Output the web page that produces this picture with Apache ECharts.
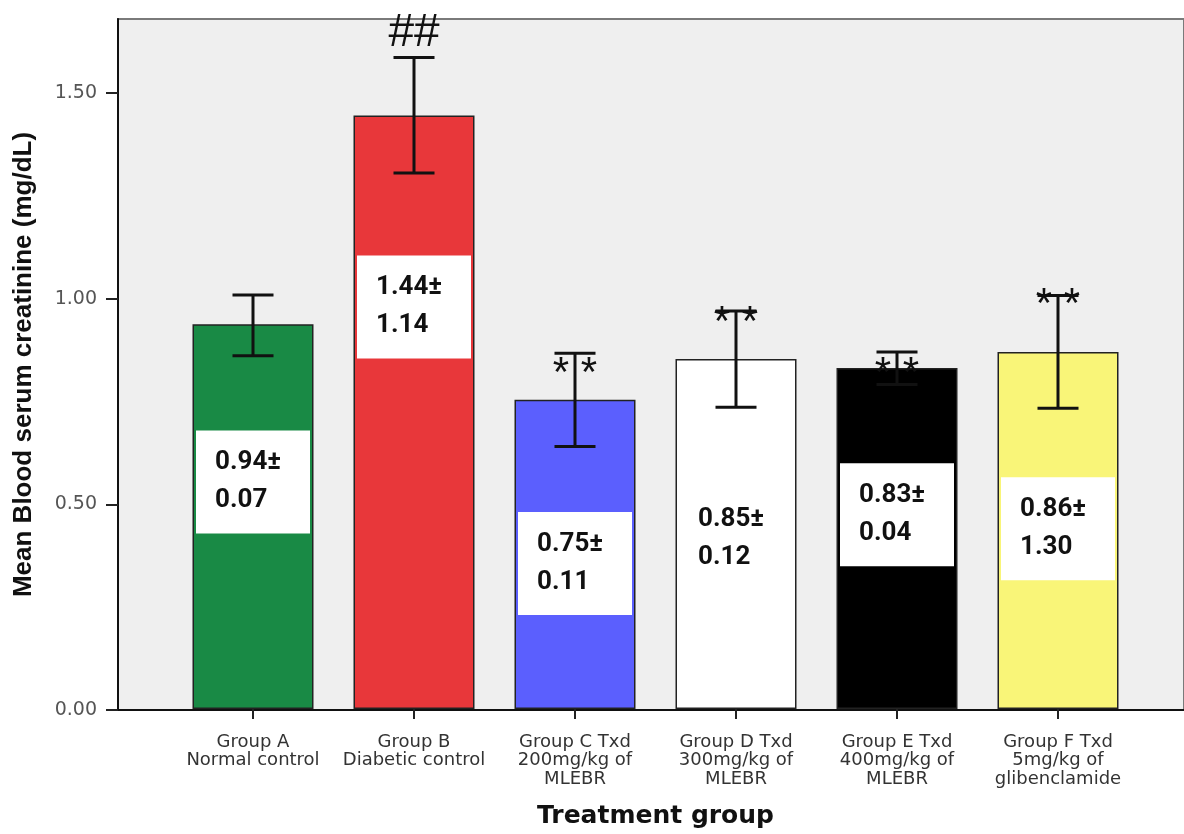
<!DOCTYPE html>
<html>
<head>
<meta charset="utf-8">
<script src="https://cdn.jsdelivr.net/npm/echarts@6/dist/echarts.min.js"></script>
<style>
  html, body { margin: 0; padding: 0; background: #fff; }
  #creatinineChart { width: 1184px; height: 834px; }
</style>
</head>
<body>
<div id="creatinineChart"></div>
<script>
// groups on the x axis
var groupNames = [
  'Group A\nNormal control',
  'Group B\nDiabetic control',
  'Group C Txd\n200mg/kg of\nMLEBR',
  'Group D Txd\n300mg/kg of\nMLEBR',
  'Group E Txd\n400mg/kg of\nMLEBR',
  'Group F Txd\n5mg/kg of\nglibenclamide'
]
// mean serum creatinine (mg/dL)
var meanValues = [0.937, 1.445, 0.753, 0.852, 0.830, 0.869]
// error bar ends
var errLow = [0.860, 1.305, 0.639, 0.735, 0.790, 0.732]
var errHigh = [1.008, 1.586, 0.866, 0.969, 0.869, 1.007]
// text in the white boxes
var meanText = ['0.94', '1.44', '0.75', '0.85', '0.83', '0.86']
var sdText = ['0.07', '1.14', '0.11', '0.12', '0.04', '1.30']
// where the white boxes sit (value at box centre)
var boxCenter = [0.553, 0.979, 0.354, 0.416, 0.473, 0.439]
// significance marks and their heights
var markText = ['', '##', '* *', '* *', '* *', '* *']
var markValue = [0, 1.649, 0.838, 0.962, 0.839, 1.007]
// y axis ticks
var yTicks = [0, 0.5, 1, 1.5]

var barColors = ['#198a45', '#e8373a', '#5b5ffe', '#ffffff', '#000000', '#f9f578']

var chart = echarts.init(document.getElementById('creatinineChart'))

function renderErr(params, api) {
  var x = api.value(0)
  var lo = api.coord([x, api.value(1)])
  var hi = api.coord([x, api.value(2)])
  var half = 20.5
  var st = { stroke: '#111', lineWidth: 3 }
  return {
    type: 'group',
    children: [
      { type: 'line', shape: { x1: lo[0], y1: lo[1], x2: hi[0], y2: hi[1] }, style: st },
      { type: 'line', shape: { x1: lo[0] - half, y1: lo[1], x2: lo[0] + half, y2: lo[1] }, style: st },
      { type: 'line', shape: { x1: hi[0] - half, y1: hi[1], x2: hi[0] + half, y2: hi[1] }, style: st }
    ]
  }
}

function renderBox(params, api) {
  var i = params.dataIndex
  var c = api.coord([api.value(0), api.value(1)])
  return {
    type: 'group',
    children: [
      {
        type: 'rect',
        shape: { x: c[0] - 57, y: c[1] - 51.5, width: 114, height: 103 },
        style: { fill: '#ffffff' }
      },
      {
        type: 'text',
        style: {
          x: c[0] - 38,
          y: c[1],
          text: meanText[i] + '±\n' + sdText[i],
          font: 'bold 26px Roboto',
          fill: '#111',
          lineHeight: 38,
          textAlign: 'left',
          textVerticalAlign: 'middle'
        }
      }
    ]
  }
}

function renderMark(params, api) {
  var i = params.dataIndex
  var c = api.coord([api.value(0), api.value(1)])
  var isHash = markText[i] === '##'
  return {
    type: 'text',
    style: {
      x: c[0],
      y: c[1] + (isHash ? 2 : 10),
      text: markText[i],
      font: isHash ? '46px "Liberation Sans"' : '42px "Liberation Sans"',
      fill: '#111',
      textAlign: 'center',
      textVerticalAlign: 'middle'
    }
  }
}

chart.setOption({
  animation: false,
  backgroundColor: '#ffffff',
  grid: [
    {
      // plot background
      left: 118, right: -10, top: 19, bottom: 124,
      show: true,
      backgroundColor: '#efefef',
      borderColor: '#7a7a7a',
      borderWidth: 2
    },
    {
      // bars
      left: 172.5, right: 45.5, top: 19, bottom: 124
    }
  ],
  xAxis: [
    {
      gridIndex: 0,
      type: 'value',
      min: 0,
      max: 1,
      axisLine: { show: true, lineStyle: { color: '#111', width: 2 } },
      axisTick: { show: false },
      axisLabel: { show: false },
      splitLine: { show: false }
    },
    {
      gridIndex: 1,
      type: 'category',
      data: groupNames,
      name: 'Treatment group',
      nameLocation: 'middle',
      nameGap: 95,
      nameTextStyle: {
        fontFamily: 'DejaVu Sans',
        fontWeight: 'bold',
        fontSize: 25,
        color: '#111'
      },
      axisLine: { show: false },
      axisTick: {
        show: true,
        alignWithLabel: true,
        length: 10,
        lineStyle: { color: '#222', width: 2 }
      },
      axisLabel: {
        interval: 0,
        margin: 24,
        fontFamily: 'DejaVu Sans',
        fontSize: 18,
        lineHeight: 18.5,
        color: '#333'
      }
    }
  ],
  yAxis: [
    {
      gridIndex: 0,
      type: 'value',
      min: 0,
      max: 1.68,
      name: 'Mean Blood serum creatinine (mg/dL)',
      nameLocation: 'middle',
      nameGap: 81,
      nameTextStyle: {
        fontFamily: 'Liberation Sans',
        fontWeight: 'bold',
        fontSize: 26,
        color: '#111'
      },
      axisLine: { show: true, lineStyle: { color: '#111', width: 2 } },
      axisTick: {
        show: true,
        length: 12,
        customValues: yTicks,
        lineStyle: { color: '#222', width: 2 }
      },
      axisLabel: {
        customValues: yTicks,
        margin: 21,
        fontFamily: 'DejaVu Sans',
        fontSize: 19,
        color: '#555',
        formatter: function (v) { return v.toFixed(2) }
      },
      splitLine: { show: false }
    },
    {
      gridIndex: 1,
      type: 'value',
      min: 0,
      max: 1.68,
      show: false
    }
  ],
  series: [
    {
      type: 'bar',
      xAxisIndex: 1,
      yAxisIndex: 1,
      barWidth: 121,
      data: meanValues.map(function (v, i) {
        return {
          value: v,
          itemStyle: { color: barColors[i] }
        }
      }),
      itemStyle: { borderColor: '#222', borderWidth: 1.5 },
      z: 2
    },
    {
      type: 'custom',
      xAxisIndex: 1,
      yAxisIndex: 1,
      renderItem: renderBox,
      data: boxCenter.map(function (v, i) { return [i, v] }),
      z: 3
    },
    {
      type: 'custom',
      xAxisIndex: 1,
      yAxisIndex: 1,
      renderItem: renderErr,
      data: errLow.map(function (v, i) { return [i, v, errHigh[i]] }),
      z: 4
    },
    {
      type: 'custom',
      xAxisIndex: 1,
      yAxisIndex: 1,
      renderItem: renderMark,
      data: markValue.map(function (v, i) { return [i, v] }),
      z: 5
    }
  ]
})
</script>
</body>
</html>
